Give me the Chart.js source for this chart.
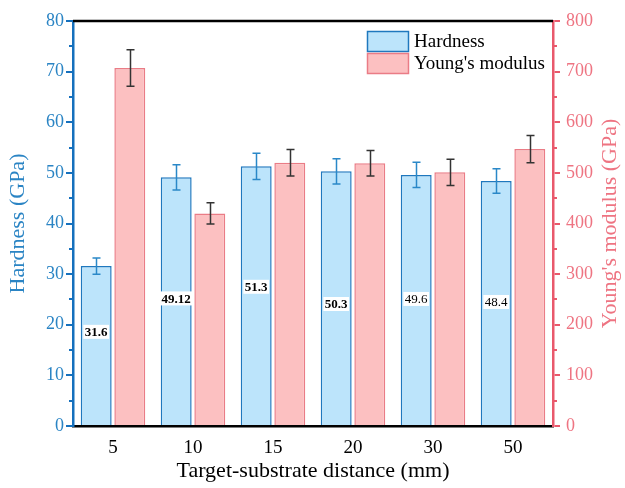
<!DOCTYPE html>
<html><head><meta charset="utf-8">
<script src="https://cdn.jsdelivr.net/npm/chart.js@4"></script>
<style>html,body{margin:0;padding:0;background:#fff}</style>
</head><body>
<canvas id="c" width="625" height="488" style="width:625px;height:488px;display:block"></canvas>
<script>
const categories = ['5', '10', '15', '20', '30', '50'];
const hardness = [31.6, 49.12, 51.3, 50.3, 49.6, 48.4];
const hardnessErr = [1.6, 2.5, 2.6, 2.5, 2.5, 2.4];
const modulus = [707, 420, 520, 519, 501, 547];
const modulusErr = [36, 21, 26, 25, 26, 27];
const hardnessLabels = ['31.6', '49.12', '51.3', '50.3', '49.6', '48.4'];

const SERIF = '"Liberation Serif", "Times New Roman", serif';
const BLUE_AX = '#1570BD', BLUE_TXT = '#2A84C4';
const PINK_AX = '#E9596C', PINK_TXT = '#EE7482';

const extras = {
  id: 'extras',
  afterDatasetsDraw(chart, args, opts) {
    const ctx = chart.ctx;
    [[0, hardnessErr, '#2A88C8', 'y'], [1, modulusErr, '#333333', 'y2']].forEach(([di, errs, col, sid]) => {
      const meta = chart.getDatasetMeta(di);
      const ys = chart.scales[sid];
      const vals = chart.data.datasets[di].data;
      ctx.save();
      ctx.strokeStyle = col; ctx.lineWidth = 1.5;
      meta.data.forEach((bar, i) => {
        const top = ys.getPixelForValue(vals[i] + errs[i]);
        const bot = ys.getPixelForValue(vals[i] - errs[i]);
        const cx = Math.round(bar.x) + 0.5;
        ctx.beginPath();
        ctx.moveTo(cx, top); ctx.lineTo(cx, bot);
        ctx.moveTo(cx - 4, top); ctx.lineTo(cx + 4, top);
        ctx.moveTo(cx - 4, bot); ctx.lineTo(cx + 4, bot);
        ctx.stroke();
      });
      ctx.restore();
    });
    const meta0 = chart.getDatasetMeta(0);
    const yl = chart.scales.y;
    ctx.save();
    ctx.textAlign = 'center'; ctx.textBaseline = 'middle';
    meta0.data.forEach((bar, i) => {
      const bold = opts.bold[i];
      ctx.font = (bold ? 'bold ' : '') + '13px ' + SERIF;
      const t = hardnessLabels[i];
      const w = ctx.measureText(t).width + 3;
      const cy = yl.getPixelForValue(opts.labelAt[i]);
      ctx.fillStyle = '#fff';
      ctx.fillRect(bar.x - w / 2, cy - 7, w, 14);
      ctx.fillStyle = '#000';
      ctx.fillText(t, bar.x, cy + 1);
    });
    ctx.restore();
  },
  afterDraw(chart) {
    const ctx = chart.ctx;
    const a = chart.chartArea;
    ctx.save();
    ctx.strokeStyle = '#000'; ctx.lineWidth = 2.5;
    ctx.beginPath(); ctx.moveTo(a.left, a.top); ctx.lineTo(a.right, a.top); ctx.stroke();
    const yl = chart.scales.y, yr = chart.scales.y2;
    ctx.lineWidth = 2;
    ctx.strokeStyle = BLUE_AX;
    for (let v = 5; v < 80; v += 10) {
      const py = Math.round(yl.getPixelForValue(v));
      ctx.beginPath(); ctx.moveTo(a.left - 4, py); ctx.lineTo(a.left, py); ctx.stroke();
    }
    ctx.strokeStyle = PINK_AX;
    for (let v = 50; v < 800; v += 100) {
      const py = Math.round(yr.getPixelForValue(v));
      ctx.beginPath(); ctx.moveTo(a.right, py); ctx.lineTo(a.right + 4, py); ctx.stroke();
    }
    ctx.fillStyle = PINK_TXT;
    ctx.font = '22px ' + SERIF;
    ctx.translate(610, (a.top + a.bottom) / 2);
    ctx.rotate(-Math.PI / 2);
    ctx.textAlign = 'center'; ctx.textBaseline = 'middle';
    ctx.fillText("Young's modulus (GPa)", 0, 0);
    ctx.restore();
    ctx.save();
    const items = chart.data.datasets;
    const bx = 367, by = [31, 53];
    items.forEach((ds, i) => {
      ctx.fillStyle = ds.backgroundColor;
      ctx.fillRect(bx, by[i], 42, 20);
      ctx.strokeStyle = ds.borderColor; ctx.lineWidth = 1.5;
      ctx.strokeRect(bx + 0.5, by[i] + 0.5, 41, 20);
      ctx.fillStyle = '#000';
      ctx.font = '19px ' + SERIF;
      ctx.textBaseline = 'middle'; ctx.textAlign = 'left';
      ctx.fillText(ds.label, 414, by[i] + 11);
    });
    ctx.restore();
  }
};

new Chart(document.getElementById('c'), {
  type: 'bar',
  data: {
    labels: categories,
    datasets: [
      { label: 'Hardness', data: hardness, yAxisID: 'y',
        backgroundColor: '#BCE4FB', borderColor: '#1F78BE', borderWidth: 1.5,
        categoryPercentage: 0.84, barPercentage: 0.92 },
      { label: "Young's modulus", data: modulus, yAxisID: 'y2',
        backgroundColor: '#FCC0C1', borderColor: '#EA7C86', borderWidth: 1.5,
        categoryPercentage: 0.84, barPercentage: 0.92 }
    ]
  },
  options: {
    responsive: false,
    animation: false,
    layout: { padding: { top: 21, left: 0, right: 0, bottom: 0 } },
    plugins: {
      legend: { display: false },
      tooltip: { enabled: false },
      extras: {
        labelAt: [18.6, 25.2, 27.5, 24.1, 25.1, 24.5],
        bold: [true, true, true, true, false, false]
      }
    },
    scales: {
      x: {
        grid: { display: false },
        border: { color: '#000', width: 2.5 },
        ticks: { color: '#000', font: { family: SERIF, size: 19 }, padding: 3 },
        title: { display: true, text: 'Target-substrate distance (mm)', color: '#000',
                 font: { family: SERIF, size: 22 }, padding: { top: 0, bottom: 4 } },
        afterFit(s) { s.height = 62; }
      },
      y: {
        position: 'left', min: 0, max: 80,
        grid: { drawOnChartArea: false, tickLength: 7, color: BLUE_AX, lineWidth: 2 },
        border: { color: BLUE_AX, width: 2.5 },
        ticks: { stepSize: 10, color: BLUE_TXT, font: { family: SERIF, size: 18 }, padding: 2 },
        title: { display: true, text: 'Hardness (GPa)', color: BLUE_TXT,
                 font: { family: SERIF, size: 22 }, padding: { top: 5, bottom: 0 } },
        afterFit(s) { s.width = 73; }
      },
      y2: {
        position: 'right', min: 0, max: 800,
        grid: { drawOnChartArea: false, tickLength: 7, color: PINK_AX, lineWidth: 2 },
        border: { color: PINK_AX, width: 2.5 },
        ticks: { stepSize: 100, color: PINK_TXT, font: { family: SERIF, size: 18 }, padding: 6 },
        afterFit(s) { s.width = 72; }
      }
    }
  },
  plugins: [extras]
});
</script>
</body></html>
